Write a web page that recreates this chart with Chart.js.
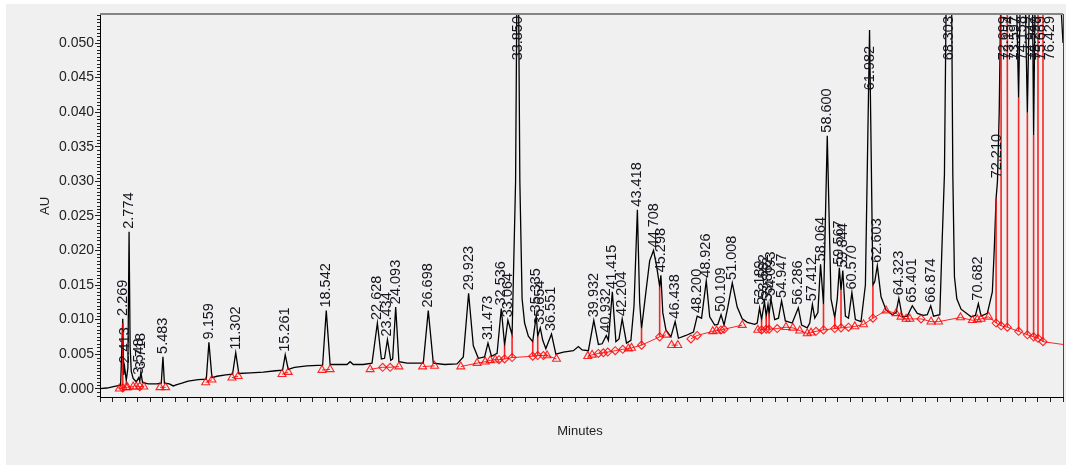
<!DOCTYPE html>
<html>
<head>
<meta charset="utf-8">
<script src="https://cdn.jsdelivr.net/npm/chart.js@4/dist/chart.umd.min.js"></script>
<style>
  html, body { margin: 0; padding: 0; background: #fff; }
  #wrap { position: relative; width: 1072px; height: 465px; }
</style>
</head>
<body>
<div id="wrap"><canvas id="chart" width="1072" height="465"></canvas></div>
<script>
// chromatogram trace, minutes / AU
const traceTime = [
  0.45, 1.0, 1.8, 2.1, 2.269, 2.34, 2.413, 2.55, 2.68, 2.774, 2.86, 2.95, 3.1, 3.35, 3.548, 3.63, 3.718, 3.85, 4.3,
  5.0, 5.35, 5.483, 5.6, 6.0, 6.3, 6.6, 7.0, 7.5, 8.3, 8.95, 9.159, 9.4, 9.8, 10.5, 11.05, 11.302, 11.55,
  12.5, 13.5, 14.5, 15.05, 15.261, 15.5, 16.0, 17.0, 18.25, 18.542, 18.85, 19.5, 20.2, 20.45, 20.7, 21.5,
  22.2, 22.628, 22.95, 23.2, 23.434, 23.7, 23.85, 24.093, 24.35, 25.0, 26.3, 26.698, 27.1, 28.0, 29.0,
  29.5, 29.923, 30.3, 30.7, 31.2, 31.473, 31.75, 32.2, 32.536, 32.8, 33.064, 33.4, 33.68, 33.85, 34.02,
  34.2, 34.4, 34.7, 35.05, 35.335, 35.45, 35.654, 35.85, 36.1, 36.551, 36.9, 37.5, 38.3, 38.7, 39.0, 39.5,
  39.932, 40.3, 40.6, 40.932, 41.1, 41.415, 41.7, 41.95, 42.204, 42.55, 42.9, 43.15, 43.418, 43.6, 43.75,
  44.1, 44.4, 44.708, 44.95, 45.2, 45.298, 45.45, 45.7, 46.1, 46.438, 46.7, 47.3, 47.9, 48.2, 48.55,
  48.926, 49.2, 49.6, 49.85, 50.109, 50.35, 50.65, 51.008, 51.4, 51.8, 52.2, 52.8, 53.0, 53.189, 53.35,
  53.582, 53.72, 53.862, 53.95, 54.093, 54.4, 54.7, 54.947, 55.25, 55.8, 56.286, 56.55, 57.0, 57.2,
  57.412, 57.6, 57.85, 58.064, 58.3, 58.6, 58.9, 59.2, 59.4, 59.567, 59.7, 59.844, 60.05, 60.3, 60.57,
  60.85, 61.3, 61.65, 61.982, 62.25, 62.4, 62.603, 62.9, 63.3, 63.8, 64.1, 64.323, 64.6, 65.0, 65.401,
  65.8, 66.3, 66.6, 66.874, 67.1, 67.6, 67.78, 67.97, 68.1, 68.303, 68.55, 68.64, 68.77, 68.96, 69.3,
  70.1, 70.45, 70.682, 70.9, 71.4, 71.8, 71.95, 72.1, 72.21, 72.35, 72.5, 72.699, 72.85, 73.0, 73.154,
  73.35, 73.597, 73.75, 73.9, 74.158, 74.4, 74.6, 74.8, 74.947, 75.1, 75.299, 75.45, 75.669, 75.85,
  76.1, 76.429, 77.0, 77.45
];
const traceAU = [
  0.0000, 0.0001, 0.0004, 0.0005, 0.0101, 0.0020, 0.0032, 0.0012, 0.0030, 0.0227, 0.0060, 0.0025, 0.0015, 0.0010, 0.0016, 0.0011, 0.0024, 0.0009, 0.0007,
  0.0007, 0.0008, 0.0046, 0.0008, 0.0007, 0.0004, 0.0006, 0.0008, 0.0011, 0.0013, 0.0014, 0.0067, 0.0016, 0.0018, 0.0020, 0.0021, 0.0052, 0.0022,
  0.0023, 0.0024, 0.0026, 0.0027, 0.0049, 0.0028, 0.0031, 0.0033, 0.0034, 0.0113, 0.0035, 0.0035, 0.0035, 0.0039, 0.0035, 0.0035,
  0.0037, 0.0095, 0.0043, 0.0044, 0.0071, 0.0041, 0.0043, 0.0118, 0.0039, 0.0037, 0.0037, 0.0113, 0.0037, 0.0035, 0.0036,
  0.0046, 0.0138, 0.0062, 0.0044, 0.0046, 0.0066, 0.0047, 0.0051, 0.0116, 0.0063, 0.0099, 0.0078, 0.0300, 0.0750, 0.0300,
  0.0130, 0.0095, 0.0076, 0.0068, 0.0106, 0.0076, 0.0088, 0.0070, 0.0058, 0.0079, 0.0050, 0.0053, 0.0055, 0.0061, 0.0056, 0.0055,
  0.0099, 0.0064, 0.0065, 0.0077, 0.0070, 0.0140, 0.0068, 0.0072, 0.0101, 0.0066, 0.0070, 0.0120, 0.0259, 0.0125, 0.0087,
  0.0140, 0.0185, 0.0200, 0.0178, 0.0148, 0.0164, 0.0110, 0.0085, 0.0075, 0.0097, 0.0073, 0.0077, 0.0082, 0.0105, 0.0102,
  0.0156, 0.0104, 0.0092, 0.0093, 0.0107, 0.0092, 0.0118, 0.0153, 0.0118, 0.0101, 0.0096, 0.0093, 0.0095, 0.0117, 0.0100,
  0.0126, 0.0105, 0.0122, 0.0108, 0.0130, 0.0100, 0.0102, 0.0127, 0.0098, 0.0095, 0.0117, 0.0092, 0.0088, 0.0095,
  0.0122, 0.0102, 0.0110, 0.0180, 0.0122, 0.0366, 0.0130, 0.0103, 0.0130, 0.0175, 0.0142, 0.0171, 0.0105, 0.0102, 0.0139,
  0.0100, 0.0097, 0.0150, 0.0519, 0.0150, 0.0155, 0.0178, 0.0133, 0.0114, 0.0107, 0.0110, 0.0131, 0.0104, 0.0105, 0.0120,
  0.0109, 0.0106, 0.0107, 0.0120, 0.0105, 0.0107, 0.0210, 0.0310, 0.0550, 0.0700, 0.0550, 0.0310, 0.0162, 0.0130, 0.0115,
  0.0104, 0.0106, 0.0123, 0.0105, 0.0109, 0.0140, 0.0200, 0.0275, 0.0300, 0.0400, 0.0600, 0.0750, 0.0650, 0.0600, 0.0750,
  0.0650, 0.0750, 0.0550, 0.0421, 0.0700, 0.0600, 0.0399, 0.0600, 0.0700, 0.0367, 0.0700, 0.0600, 0.0750, 0.0600,
  0.0700, 0.0800, 0.0650, 0.0500
];

// integrated peaks: retention time label and apex height
const peakNames = [
  '2.269', '2.413', '2.774', '3.548', '3.718', '5.483', '9.159', '11.302', '15.261', '18.542',
  '22.628', '23.434', '24.093', '26.698', '29.923', '31.473', '32.536', '33.064', '33.850', '35.335',
  '35.654', '36.551', '39.932', '40.932', '41.415', '42.204', '43.418', '44.708', '45.298', '46.438',
  '48.200', '48.926', '50.109', '51.008', '53.189', '53.582', '53.862', '54.093', '54.947', '56.286',
  '57.412', '58.064', '58.600', '59.567', '59.844', '60.570', '61.982', '62.603', '64.323', '65.401',
  '66.874', '68.303', '70.682', '72.210', '72.699', '73.154', '73.597', '74.158', '74.947', '75.299',
  '75.669', '76.429'
];
const peakAU = [
  0.0101, 0.0032, 0.0227, 0.0016, 0.0024, 0.0046, 0.0067, 0.0052, 0.0049, 0.0113,
  0.0095, 0.0071, 0.0118, 0.0113, 0.0138, 0.0066, 0.0116, 0.0099, 0.0750, 0.0106,
  0.0088, 0.0079, 0.0099, 0.0077, 0.0140, 0.0101, 0.0259, 0.0200, 0.0164, 0.0097,
  0.0105, 0.0156, 0.0107, 0.0153, 0.0117, 0.0126, 0.0122, 0.0130, 0.0127, 0.0117,
  0.0122, 0.0180, 0.0366, 0.0175, 0.0171, 0.0139, 0.0519, 0.0178, 0.0131, 0.0120,
  0.0120, 0.0700, 0.0123, 0.0300, 0.0750, 0.0750, 0.0750, 0.0700, 0.0700, 0.0700,
  0.0750, 0.0800
];

// integration baseline: t = triangle, d = diamond, null AU = break
const baseTime = [
  2.0, 2.27, 2.55, 2.55, 2.65, 3.1, 3.1, 3.35, 3.63, 3.95, 3.95, 5.25, 5.7, 5.7, 8.9, 9.4, 9.4, 11.0, 11.5, 11.5,
  15.0, 15.5, 15.5, 18.2, 18.85, 18.85, 22.05, 23.05, 23.65, 24.35, 24.35, 26.25, 27.2, 27.2,
  29.3, 30.6, 31.25, 31.65, 32.05, 32.35, 32.8, 33.4, 35.05, 35.45, 35.9, 36.2, 36.95, 36.95,
  39.45, 39.8, 40.3, 40.7, 41.05, 41.65, 42.25, 42.7, 42.95, 43.75, 45.2, 45.7, 45.7,
  46.15, 46.65, 46.65, 47.7, 48.2, 49.45, 49.75, 50.1, 50.35, 51.8, 51.8,
  53.05, 53.35, 53.72, 53.95, 54.6, 55.3, 55.85, 56.4, 57.0, 57.3, 57.7, 58.3, 59.2, 59.7, 60.3, 60.8, 61.5,
  62.25, 63.3, 64.1, 64.5, 64.9, 65.2, 66.1, 66.9, 67.5, 69.25, 70.2, 70.6, 70.9, 71.5,
  72.1, 72.5, 73.0, 73.9, 74.6, 75.1, 75.45, 75.85, 77.45
];
const baseAU = [
  0.0000, 0.0001, 0.0002, null, 0.0002, 0.0003, null, 0.0003, 0.0003, 0.0003, null, 0.0002, 0.0002, null, 0.0009, 0.0013, null, 0.0016, 0.0018, null,
  0.0021, 0.0024, null, 0.0027, 0.0028, null, 0.0028, 0.0031, 0.0031, 0.0032, null, 0.0032, 0.0033, null,
  0.0032, 0.0037, 0.0039, 0.0041, 0.0042, 0.0042, 0.0043, 0.0045, 0.0047, 0.0048, 0.0048, 0.0048, 0.0043, null,
  0.0047, 0.0049, 0.0051, 0.0052, 0.0053, 0.0055, 0.0057, 0.0058, 0.0059, 0.0063, 0.0075, 0.0078, null,
  0.0063, 0.0063, null, 0.0072, 0.0077, 0.0083, 0.0084, 0.0085, 0.0086, 0.0092, null,
  0.0085, 0.0085, 0.0086, 0.0086, 0.0087, 0.0089, 0.0088, 0.0084, 0.0080, 0.0081, 0.0083, 0.0085, 0.0087, 0.0088, 0.0089, 0.0090, 0.0093,
  0.0102, 0.0113, 0.0109, 0.0104, 0.0101, 0.0101, 0.0101, 0.0097, 0.0097, 0.0103, 0.0099, 0.0100, 0.0101, 0.0104,
  0.0095, 0.0091, 0.0089, 0.0083, 0.0078, 0.0075, 0.0073, 0.0068, 0.0064
];
const baseMark = [
  't', 'd', 't', '', 't', 't', '', 't', 'd', 't', '', 't', 't', '', 't', 't', '', 't', 't', '',
  't', 't', '', 't', 't', '', 't', 'd', 'd', 't', '', 't', 't', '',
  't', 't', 't', 't', 't', 'd', 'd', 'd', 'd', 'd', 'd', 't', 't', '',
  't', 't', 'd', 'd', 'd', 'd', 'd', 't', 't', 'd', 'd', 't', '',
  't', 't', '', 'd', 'd', 't', 't', 'd', 'd', 't', '',
  't', 'd', 'd', 'd', 'd', 't', 't', 't', 't', 't', 'd', 'd', 'd', 'd', 'd', 't', 't',
  'd', 't', 't', 't', 't', 't', 'd', 't', 't', 't', 't', 't', 't', 't',
  'd', 'd', 'd', 'd', 'd', 'd', 'd', 'd', ''
];

// drop lines between unresolved peaks
const dropTime = [2.27, 32.8, 33.4, 35.05, 35.45, 43.75, 45.2, 53.35, 53.72, 53.95, 58.3, 59.2, 59.7, 62.25,
  72.1, 72.5, 73.0, 73.9, 74.6, 75.1, 75.45, 75.85];
const dropTop = [0.0095, 0.0063, 0.0078, 0.0068, 0.0076, 0.0087, 0.0148, 0.0100, 0.0105, 0.0108, 0.0122, 0.0103, 0.0142, 0.0150,
  0.0275, 0.0600, 0.0600, 0.0421, 0.0399, 0.0367, 0.0600, 0.0600];
const dropBase = [0.0001, 0.0043, 0.0045, 0.0047, 0.0048, 0.0063, 0.0075, 0.0085, 0.0086, 0.0086, 0.0085, 0.0087, 0.0088, 0.0102,
  0.0095, 0.0091, 0.0089, 0.0083, 0.0078, 0.0075, 0.0073, 0.0068];

const FONT = '"Liberation Sans", Arial, sans-serif';
const RED = 'rgba(255, 0, 0, 0.85)';

const traceData = traceTime.map((t, i) => ({ x: t, y: traceAU[i] }));
const baseData = baseTime.map((t, i) => ({ x: t, y: baseAU[i] }));
const dropData = [];
dropTime.forEach((t, i) => {
  dropData.push({ x: t, y: dropTop[i] }, { x: t, y: dropBase[i] }, { x: t, y: null });
});

const panelBg = {
  id: 'panelBg',
  beforeDraw(chart) {
    const ctx = chart.ctx;
    ctx.save();
    ctx.fillStyle = '#f0f0f0';
    ctx.fillRect(6, 4, 1060, 461);
    ctx.restore();
  },
};

const frame = {
  id: 'frame',
  afterDraw(chart) {
    const { ctx, chartArea: a, scales: { y } } = chart;
    ctx.save();
    // top and right border
    ctx.strokeStyle = '#858585';
    ctx.lineWidth = 2;
    ctx.beginPath();
    ctx.moveTo(a.left, a.top);
    ctx.lineTo(a.right, a.top);
    ctx.stroke();
    ctx.strokeStyle = '#444';
    ctx.lineWidth = 1;
    ctx.beginPath();
    ctx.moveTo(a.right + 0.5, a.top);
    ctx.lineTo(a.right + 0.5, a.bottom);
    ctx.stroke();
    // minor y ticks every 0.0005
    ctx.strokeStyle = '#222';
    ctx.beginPath();
    for (let k = -2; k <= 110; k++) {
      if (k % 10 === 0) continue;
      const v = k * 0.0005;
      if (v < y.min || v > y.max) continue;
      const py = Math.round(y.getPixelForValue(v)) + 0.5;
      ctx.moveTo(a.left - 3, py);
      ctx.lineTo(a.left, py);
    }
    ctx.stroke();
    // axis titles
    ctx.fillStyle = '#222';
    ctx.font = '13px ' + FONT;
    ctx.textAlign = 'center';
    ctx.textBaseline = 'middle';
    ctx.fillText('Minutes', 580, 431);
    ctx.translate(45, 206);
    ctx.rotate(-Math.PI / 2);
    ctx.fillText('AU', 0, 0);
    ctx.restore();
  },
};

const peakLabels = {
  id: 'peakLabels',
  afterDatasetsDraw(chart) {
    const { ctx, chartArea: a, scales: { x, y } } = chart;
    ctx.save();
    ctx.font = '14.5px ' + FONT;
    ctx.fillStyle = '#15151f';
    ctx.textAlign = 'left';
    ctx.textBaseline = 'middle';
    peakNames.forEach((name, i) => {
      const px = x.getPixelForValue(parseFloat(name));
      const apex = y.getPixelForValue(peakAU[i]);
      const w = ctx.measureText(name).width;
      let bottom = apex - 3;
      if (bottom - w < a.top) {
        bottom = peakAU[i] > y.max ? a.top + 2 + w : apex + 16 + w;
      }
      ctx.save();
      ctx.translate(px, bottom);
      ctx.rotate(-Math.PI / 2);
      ctx.fillText(name, 0, 0);
      ctx.restore();
    });
    ctx.restore();
  },
};

new Chart(document.getElementById('chart'), {
  type: 'line',
  data: {
    datasets: [
      {
        data: dropData,
        borderColor: RED,
        borderWidth: 1.6,
        pointRadius: 0,
        spanGaps: false,
      },
      {
        data: baseData,
        borderColor: RED,
        borderWidth: 1,
        spanGaps: false,
        pointStyle: (c) => (baseMark[c.dataIndex] === 'd' ? 'rectRot' : 'triangle'),
        pointRadius: (c) => (baseMark[c.dataIndex] === 'd' ? 4 : baseMark[c.dataIndex] === 't' ? 4.6 : 0),
        pointBorderColor: RED,
        pointBackgroundColor: 'rgba(0,0,0,0)',
        pointBorderWidth: 1.1,
      },
      {
        data: traceData,
        borderColor: '#000',
        borderWidth: 1.3,
        pointRadius: 0,
      },
    ],
  },
  options: {
    responsive: false,
    animation: false,
    devicePixelRatio: 1,
    layout: { padding: { left: 0, right: 9, top: 14, bottom: 0 } },
    plugins: { legend: { display: false }, tooltip: { enabled: false } },
    elements: { line: { tension: 0 } },
    scales: {
      x: {
        type: 'linear',
        min: 0.45,
        max: 77.45,
        afterFit: (s) => { s.height = 68; },
        border: { color: '#000', width: 1 },
        grid: { display: true, drawOnChartArea: false, drawTicks: true, tickLength: 5, color: '#222' },
        ticks: {
          stepSize: 1,
          includeBounds: false,
          autoSkip: false,
          maxRotation: 0,
          maxTicksLimit: 200,
          padding: 2,
          color: '#222',
          font: { family: FONT, size: 14 },
          callback: (v) => (Math.abs(v - Math.round(v / 5) * 5) < 1e-6 ? Number(v).toFixed(2) : ''),
        },
      },
      y: {
        min: -0.0012,
        max: 0.0542,
        afterFit: (s) => { s.width = 100; },
        border: { color: '#000', width: 1 },
        grid: { display: true, drawOnChartArea: false, drawTicks: true, tickLength: 5, color: '#222' },
        ticks: {
          stepSize: 0.005,
          includeBounds: false,
          padding: 1,
          color: '#222',
          font: { family: FONT, size: 14 },
          callback: (v) => Number(v).toFixed(3),
        },
      },
    },
  },
  plugins: [panelBg, frame, peakLabels],
});
</script>
</body>
</html>
